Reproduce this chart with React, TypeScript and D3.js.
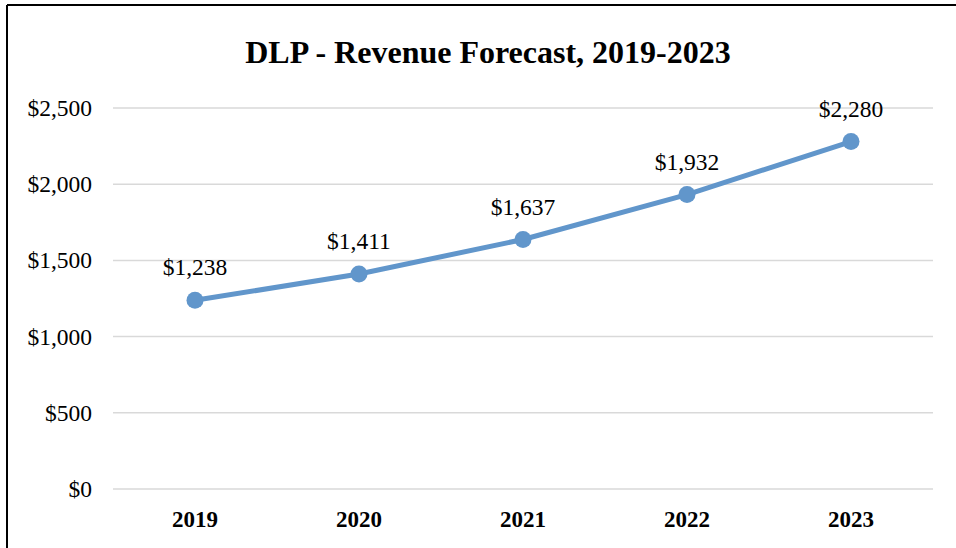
import React from "react";
import * as d3 from "d3";

const years = ["2019", "2020", "2021", "2022", "2023"];
const revenue = [1238, 1411, 1637, 1932, 2280];
const yTicks = [0, 500, 1000, 1500, 2000, 2500];
const title = "DLP - Revenue Forecast, 2019-2023";

const W = 956;
const H = 548;
const left = 113;
const right = 933;
const top = 108;
const bottom = 489;

export default function App() {
  const x = d3.scaleBand<string>().domain(years).range([left, right]);
  const y = d3.scaleLinear().domain([0, 2500]).range([bottom, top]);
  const fmt = (v: number) => "$" + d3.format(",")(v);
  const line = d3
    .line<number>()
    .x((_, i) => (x(years[i]) as number) + x.bandwidth() / 2)
    .y((d) => y(d));
  const font = "'Liberation Serif', 'Times New Roman', serif";
  return (
    <svg
      width={W}
      height={H}
      style={{ position: "absolute", left: 0, top: 0, background: "#fff" }}
      fontFamily={font}
    >
      <rect x={0} y={0} width={W} height={H} fill="#fff" />
      <line x1={7} y1={5} x2={W} y2={5} stroke="#000" strokeWidth={2} />
      <line x1={7} y1={5} x2={7} y2={H} stroke="#000" strokeWidth={2} />
      <text x={488} y={63} textAnchor="middle" fontSize={32} fontWeight="bold">
        {title}
      </text>
      {yTicks.map((t) => (
        <g key={t}>
          <line x1={left} x2={right} y1={y(t)} y2={y(t)} stroke="#d9d9d9" strokeWidth={1.5} />
          <text x={92} y={y(t) + 8} textAnchor="end" fontSize={23.5}>
            {fmt(t)}
          </text>
        </g>
      ))}
      {years.map((yr) => (
        <text
          key={yr}
          x={(x(yr) as number) + x.bandwidth() / 2}
          y={527}
          textAnchor="middle"
          fontSize={23}
          fontWeight="bold"
        >
          {yr}
        </text>
      ))}
      <path d={line(revenue) || ""} fill="none" stroke="#6196CB" strokeWidth={5} />
      {revenue.map((v, i) => {
        const cx = (x(years[i]) as number) + x.bandwidth() / 2;
        return (
          <g key={i}>
            <circle cx={cx} cy={y(v)} r={8.5} fill="#6196CB" />
            <text x={cx} y={y(v) - 25} textAnchor="middle" fontSize={23.5}>
              {fmt(v)}
            </text>
          </g>
        );
      })}
    </svg>
  );
}
